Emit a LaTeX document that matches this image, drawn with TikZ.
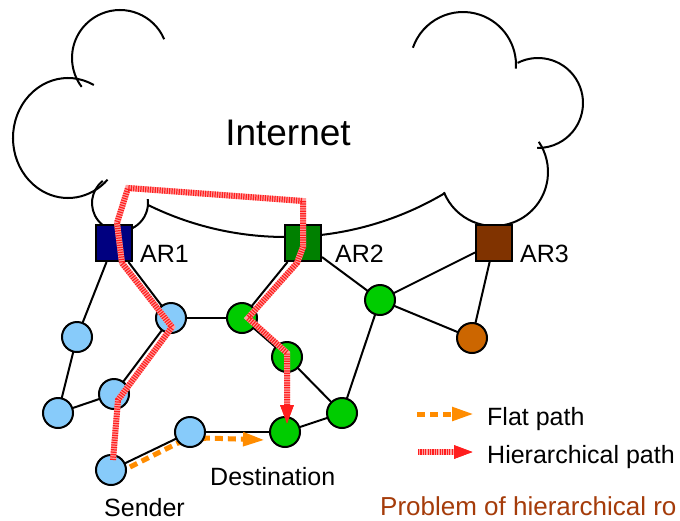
\documentclass[tikz,border=0pt]{standalone}
\usepackage{fontspec}
\setmainfont{Liberation Sans}
\usetikzlibrary{arrows.meta}
\definecolor{arone}{RGB}{0,0,128}
\definecolor{artwo}{RGB}{0,128,0}
\definecolor{arthree}{RGB}{128,51,0}
\definecolor{hostblue}{RGB}{135,203,250}
\definecolor{hostgreen}{RGB}{0,204,0}
\definecolor{hostorange}{RGB}{204,102,0}
\definecolor{flatorange}{RGB}{255,140,0}
\definecolor{hierpink}{RGB}{255,160,160}
\definecolor{hierred}{RGB}{255,30,30}
\definecolor{captionbrown}{RGB}{165,60,10}
\tikzset{
  cloudline/.style={line width=2pt, draw=black},
  edge/.style={line width=2pt, draw=black},
  router/.style={rectangle, draw=black, line width=2pt, minimum size=36pt, inner sep=0pt},
  host/.style={circle, draw=black, line width=2pt, minimum size=30pt, inner sep=0pt},
  lbl/.style={font=\fontsize{25}{30}\selectfont, inner sep=0pt},
  hierbase/.style={line width=6pt, draw=hierpink, -{Triangle[length=20pt,width=12pt,color=hierred,fill=hierred]}},
  hierstripe/.style={line width=6pt, draw=hierred, dash pattern=on 1.2pt off 1.2pt, -{Triangle[length=20pt,width=12pt,color=hierred,fill=hierred]}},
  flatpath/.style={line width=5pt, draw=flatorange, dash pattern=on 8pt off 5pt, -{Triangle[length=22pt,width=13pt,color=flatorange,fill=flatorange]}},
}
\begin{document}
\begin{tikzpicture}[x=1pt,y=-1pt]
\useasboundingbox (0,0) rectangle (680,520);
\clip (0,0) rectangle (680,520);
\fill[white] (0,0) rectangle (680,520);

% cloud
\draw[cloudline] (120,58) ++(-23:48) arc[start angle=-23, end angle=-217, radius=48];
\draw[cloudline] (68,138) ++(-62:55 and 60) arc[start angle=-62, end angle=-316, x radius=55, y radius=60];
\draw[cloudline] (120,203) ++(-128:28) arc[start angle=-128, end angle=-368, radius=28];
\draw[cloudline] (285.5,-74.3) ++(116.2:311.3) arc[start angle=116.2, end angle=59.2, radius=311.3];
\draw[cloudline] (494,172) ++(158:54) arc[start angle=158, end angle=-34, radius=54];
\draw[cloudline] (538,103) ++(-117:45) arc[start angle=-117, end angle=91, radius=45];
\draw[cloudline] (463,65) ++(-161:53) arc[start angle=-161, end angle=4, radius=53];
\node[inner sep=0pt, font=\fontsize{37}{44}\selectfont, anchor=base] (inet) at (288,145) {Internet};

% nodes
\node[router, fill=arone] (ar1) at (114,243) {};
\node[router, fill=artwo] (ar2) at (303,243) {};
\node[router, fill=arthree] (ar3) at (494,243) {};

\coordinate (hb1) at (171,318);
\coordinate (hb2) at (77,337);
\coordinate (hb3) at (114,394);
\coordinate (hb4) at (58,413);
\coordinate (hb5) at (190,432);
\coordinate (hsnd) at (111,470);
\coordinate (hg1) at (242,318);
\coordinate (hg2) at (287,357);
\coordinate (hdst) at (285,432);
\coordinate (hg4) at (342,413);
\coordinate (hg5) at (380,300);
\coordinate (hog) at (472,338);

% black edges (drawn between centres, hidden under the node discs)
\draw[edge] (ar1) -- (hb2);
\draw[edge] (ar1) -- (hb1);
\draw[edge] (hb2) -- (hb4);
\draw[edge] (hb4) -- (hb3);
\draw[edge] (hb3) -- (hb1);
\draw[edge] (hb1) -- (hg1);
\draw[edge] (ar2) -- (hg1);
\draw[edge] (hg1) -- (hg2);
\draw[edge] (hg2) -- (hg4);
\draw[edge] (hg4) -- (hdst);
\draw[edge] (hg4) -- (hg5);
\draw[edge] (hg5) -- (ar2);
\draw[edge] (hg5) -- (ar3);
\draw[edge] (hg5) -- (hog);
\draw[edge] (ar3) -- (hog);
\draw[edge] (hsnd) -- (hb5);
\draw[edge] (hb5) -- (hdst);

% flat path
\coordinate (f0) at (130,467);
\coordinate (f1) at (178,443);
\coordinate (f2) at (207,438);
\coordinate (f3) at (265,440);
\draw[flatpath] (f0) -- (f1) -- (f2) -- (f3);

% hosts
\node[host, fill=hostblue] (b1) at (hb1) {};
\node[host, fill=hostblue] (b2) at (hb2) {};
\node[host, fill=hostblue] (b3) at (hb3) {};
\node[host, fill=hostblue] (b4) at (hb4) {};
\node[host, fill=hostblue] (b5) at (hb5) {};
\node[host, fill=hostblue] (snd) at (hsnd) {};
\node[host, fill=hostgreen] (g1) at (hg1) {};
\node[host, fill=hostgreen] (g2) at (hg2) {};
\node[host, fill=hostgreen] (dst) at (hdst) {};
\node[host, fill=hostgreen] (g4) at (hg4) {};
\node[host, fill=hostgreen] (g5) at (hg5) {};
\node[host, fill=hostorange] (og) at (hog) {};

% hierarchical path
\coordinate (r0) at (113,460);
\coordinate (r1) at (118,400);
\coordinate (r2) at (172,327);
\coordinate (r3) at (122,263);
\coordinate (r4) at (117,223);
\coordinate (r5) at (128,188);
\coordinate (r6) at (303,201);
\coordinate (r7) at (303,247);
\coordinate (r8) at (297,263);
\coordinate (r9) at (248,318);
\coordinate (r10) at (287,353);
\coordinate (r11) at (287,425);
\draw[hierbase] (r0) -- (r1) -- (r2) -- (r3) -- (r4) -- (r5) -- (r6) -- (r7) -- (r8) -- (r9) -- (r10) -- (r11);
\draw[hierstripe] (r0) -- (r1) -- (r2) -- (r3) -- (r4) -- (r5) -- (r6) -- (r7) -- (r8) -- (r9) -- (r10) -- (r11);

% labels
\node[lbl, anchor=base west] (lar1) at (140,262) {AR1};
\node[lbl, anchor=base west] (lar2) at (335,262) {AR2};
\node[lbl, anchor=base west] (lar3) at (520,262) {AR3};
\node[lbl, anchor=base west] (ldst) at (210,485) {Destination};
\node[lbl, anchor=base west] (lsnd) at (104,516) {Sender};

% legend
\coordinate (lf0) at (417,414);
\coordinate (lf1) at (474,414);
\coordinate (lh0) at (418,452);
\coordinate (lh1) at (474,452);
\draw[flatpath] (lf0) -- (lf1);
\draw[hierbase] (lh0) -- (lh1);
\draw[hierstripe] (lh0) -- (lh1);
\node[lbl, anchor=base west] (lflat) at (487,425) {Flat path};
\node[lbl, anchor=base west] (lhier) at (487,463) {Hierarchical path};
\node[inner sep=0pt, anchor=base west, font=\fontsize{26}{31}\selectfont, text=captionbrown] (cap) at (380,515) {Problem of hierarchical ro};
\end{tikzpicture}
\end{document}
